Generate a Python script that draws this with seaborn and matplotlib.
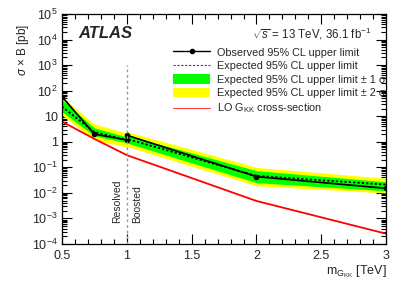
import numpy as np
import pandas as pd
import matplotlib
matplotlib.use("Agg")
import matplotlib.pyplot as plt
import seaborn as sns
from matplotlib.lines import Line2D
from matplotlib.patches import Patch
from matplotlib.ticker import MultipleLocator, LogLocator, NullFormatter

# ── data ──
mass = [0.5, 0.75, 1.0, 1.0, 2.0, 3.0]
observed = [59, 2.0, 1.17, 1.8, 0.043, 0.015]
expected = [24, 2.4, 1.17, 1.3, 0.046, 0.021]
minus1 = [15, 1.7, 0.91, 0.9, 0.025, 0.012]
plus1 = [44, 3.5, 1.55, 1.8, 0.074, 0.027]
minus2 = [11, 1.17, 0.63, 0.65, 0.019, 0.0098]
plus2 = [56, 5.0, 2.2, 2.5, 0.1, 0.037]

theory_mass = [0.5, 0.75, 1.0, 2.0, 3.0]
theory_xs = [6.2, 1.3, 0.30, 0.0048, 0.00025]

ytick_vals = [1e-4, 1e-3, 1e-2, 1e-1, 1, 10, 1e2, 1e3, 1e4, 1e5]
ytick_labels = ["$10^{-4}$", "$10^{-3}$", "$10^{-2}$", "$10^{-1}$", "1", "10",
                "$10^{2}$", "$10^{3}$", "$10^{4}$", "$10^{5}$"]
xtick_vals = [0.5, 1.0, 1.5, 2.0, 2.5, 3.0]
xtick_labels = ["0.5", "1", "1.5", "2", "2.5", "3"]

limits = pd.DataFrame({"mass": mass, "obs": observed, "exp": expected,
                       "m1": minus1, "p1": plus1, "m2": minus2, "p2": plus2})
theory = pd.DataFrame({"mass": theory_mass, "xs": theory_xs})

sns.set_theme(style="ticks")
plt.rcParams["font.family"] = ["Liberation Sans", "DejaVu Sans"]
plt.rcParams["mathtext.fontset"] = "custom"
plt.rcParams["mathtext.rm"] = "Liberation Sans"
plt.rcParams["mathtext.it"] = "Liberation Sans:italic"

fig = plt.figure(figsize=(4.07, 2.81), dpi=100)
ax = fig.add_axes([0.152, 0.132, 0.797, 0.818])

# bands
ax.fill_between(limits["mass"], limits["m2"], limits["p2"], color="#ffff00", lw=0)
ax.fill_between(limits["mass"], limits["m1"], limits["p1"], color="#00ff00", lw=0)

sns.lineplot(data=limits, x="mass", y="exp", ax=ax, estimator=None, sort=False,
             color="black", lw=1.3, linestyle=(0, (1.2, 1.2)))
sns.lineplot(data=limits, x="mass", y="obs", ax=ax, estimator=None, sort=False,
             color="black", lw=1.2, marker="o", markersize=4, markeredgewidth=0)
sns.lineplot(data=theory, x="mass", y="xs", ax=ax, estimator=None, sort=False,
             color="#ff0000", lw=1.3)

# resolved / boosted divider
ax.plot([1.0, 1.0], [1e-4, 1e3], color="#999999", lw=1.0, linestyle=(0, (2, 2)))
trans = ax.get_xaxis_transform()
ax.text(0.965, 0.09, "Resolved", rotation=90, ha="right", va="bottom",
        fontsize=7.5, transform=trans)
ax.text(1.04, 0.09, "Boosted", rotation=90, ha="left", va="bottom",
        fontsize=7.5, transform=trans)

ax.set_yscale("log")
ax.set_xlim(0.5, 3.0)
ax.set_ylim(1e-4, 1e5)
ax.set_yticks(ytick_vals, ytick_labels)
ax.yaxis.set_minor_locator(LogLocator(base=10, subs=np.arange(2, 10), numticks=20))
ax.yaxis.set_minor_formatter(NullFormatter())
ax.set_xticks(xtick_vals, xtick_labels)
ax.xaxis.set_minor_locator(MultipleLocator(0.1))
ax.tick_params(which="both", direction="in", top=True, right=True, labelsize=9,
               width=0.8, color="black", pad=3)
ax.tick_params(axis="x", which="both", pad=4.5)
ax.tick_params(which="major", length=7)
ax.tick_params(which="minor", length=3.5)
for s in ax.spines.values():
    s.set_linewidth(0.9)
    s.set_color("black")

ax.set_xlabel(r"$\mathrm{m_{G_{KK}}}$ [TeV]", fontsize=9, loc="right", labelpad=1)
ax.set_ylabel(r"$\sigma$ × B [pb]", fontsize=8.5, loc="top")
ax.yaxis.set_label_coords(-0.095, 0.96)

ax.text(0.05, 0.915, "ATLAS", transform=ax.transAxes, fontsize=12,
        fontweight="bold", fontstyle="italic", va="center")
ax.text(0.955, 0.915, r"$\sqrt{s}$ = 13 TeV, 36.1 fb$^{-1}$", transform=ax.transAxes,
        fontsize=8.3, ha="right", va="center")

handles = [
    Line2D([], [], color="black", lw=1.0, marker="o", markersize=4, markeredgewidth=0),
    Line2D([], [], color="#3030c0", lw=0.8, linestyle=(0, (2, 1.5))),
    Patch(facecolor="#00ff00", edgecolor="none"),
    Patch(facecolor="#ffff00", edgecolor="none"),
    Line2D([], [], color="#ff4040", lw=0.8),
]
labels = [
    "Observed 95% CL upper limit",
    "Expected 95% CL upper limit",
    "Expected 95% CL upper limit ± 1 σ",
    "Expected 95% CL upper limit ± 2 σ",
    r"LO $\mathrm{G_{KK}}$ cross-section",
]
ax.legend(handles, labels, loc="upper left", bbox_to_anchor=(0.33, 0.875),
          fontsize=7.8, frameon=False, handlelength=3.4, handleheight=0.95,
          handletextpad=0.6, labelspacing=0.3, borderaxespad=0)

fig.savefig("out.png", dpi=100)
